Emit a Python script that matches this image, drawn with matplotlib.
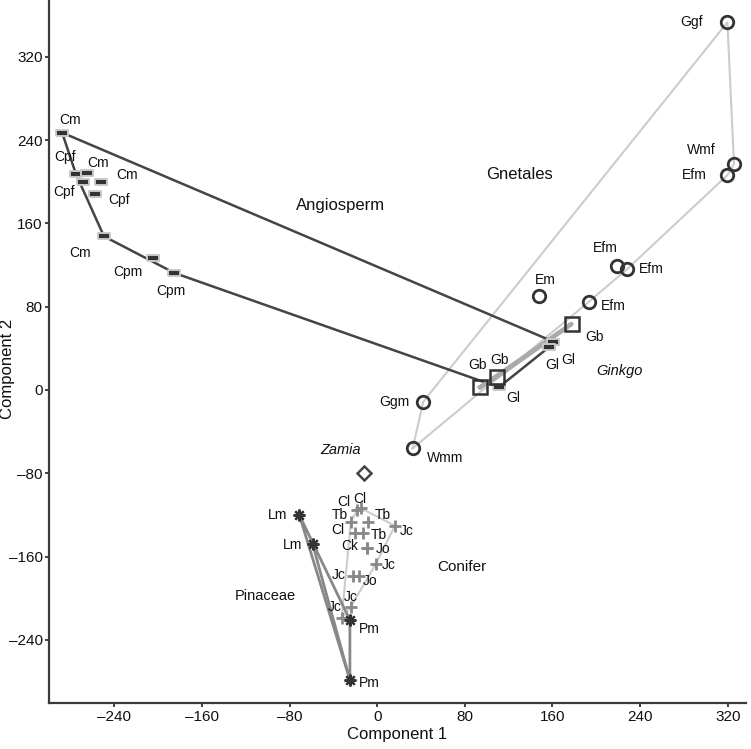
import matplotlib
matplotlib.use("Agg")
import matplotlib.pyplot as plt
import numpy as np

plt.rcParams['font.family'] = ['Liberation Sans', 'DejaVu Sans']

# ---------------- data ----------------
angio_labels = ["Cm", "Cpf", "Cm", "Cpf", "Cm", "Cpf", "Cm", "Cpm", "Cpm", "Gl", "Gl", "Gl"]
angio_x = [-287.6, -275.0, -264.5, -268.5, -252.4, -257.4, -249.4, -204.7, -185.1, 160.8, 156.8, 111.1]
angio_y = [247.2, 207.4, 208.0, 200.2, 199.9, 187.8, 147.6, 126.7, 112.4, 46.4, 41.1, 2.6]

ginkgo_labels = ["Gb", "Gb", "Gb"]
ginkgo_x = [177.4, 109.1, 94.0]
ginkgo_y = [63.4, 12.2, 2.6]

gnet_labels = ["Ggf", "Wmf", "Efm", "Efm", "Efm", "Em", "Efm", "Ggm", "Wmm"]
gnet_x = [319.7, 325.7, 319.7, 218.5, 228.3, 147.3, 193.4, 42.1, 32.4]
gnet_y = [353.2, 217.1, 206.4, 119.2, 116.2, 90.6, 84.9, -11.2, -56.1]

zamia_x = [-12.0]
zamia_y = [-79.5]

pin_labels = ["Lm", "Lm", "Pm", "Pm"]
pin_x = [-71.1, -58.9, -24.9, -24.9]
pin_y = [-120.0, -148.0, -221.0, -278.6]

con_labels = ["Cl", "Cl", "Tb", "Tb", "Jc", "Cl", "Tb", "Ck", "Jo", "Jc", "Jc", "Jo", "Jc", "Jc"]
con_x = [-18.1, -15.0, -24.0, -8.1, 16.2, -20.2, -12.7, -9.6, -9.6, -1.4, -21.9, -16.3, -24.0, -32.4]
con_y = [-115.3, -113.6, -126.5, -126.5, -130.4, -137.7, -137.7, -151.5, -151.5, -167.4, -178.7, -178.7, -208.2, -219.3]

group_names = ["Angiosperm", "Gnetales", "Ginkgo", "Zamia", "Conifer", "Pinaceae"]
group_x = [-33.5, 130.2, 221.6, -33.0, 77.5, -101.8]
group_y = [177.4, 207.4, 18.0, -57.6, -170.3, -197.9]

xticks = [-240, -160, -80, 0, 80, 160, 240, 320]
yticks = [-240, -160, -80, 0, 80, 160, 240, 320]

# ---------------- styles / label offsets (pixels) ----------------
group_italic = [False, False, True, True, False, False]
group_size = [12, 12, 10.5, 10.5, 11, 10.5]

angio_off = [(8, 13), (-11, 17), (11, 10), (-19, -10), (26, 7), (24, -6), (-24, -17), (-25, -14), (-4, -18),
             (15, -18), (3, -18), (14, -11)]
ginkgo_off = [(23, -13), (3, 17), (-3, 22)]
gnet_off = [(-36, 0), (-33, 14), (-33, 0), (-11, 18), (24, 0), (7, 16), (24, -4), (-29, 0), (32, -10)]
pin_off = [(-22, 0), (-20, -1), (19, -9), (19, -3)]
con_off = [(-14, 8), (-1, 9), (-11, 7), (15, 7), (12, -5), (-17, 3), (16, -2), (-17, 2), (16, -1),
           (13, -1), (-14, 1), (11, -5), (0, 10), (-7, 11)]


def hull(xs, ys):
    pts = sorted(set(zip(xs, ys)))
    if len(pts) < 3:
        return pts

    def cross(o, a, b):
        return (a[0] - o[0]) * (b[1] - o[1]) - (a[1] - o[1]) * (b[0] - o[0])
    lower = []
    for p in pts:
        while len(lower) >= 2 and cross(lower[-2], lower[-1], p) <= 0:
            lower.pop()
        lower.append(p)
    upper = []
    for p in reversed(pts):
        while len(upper) >= 2 and cross(upper[-2], upper[-1], p) <= 0:
            upper.pop()
        upper.append(p)
    h = lower[:-1] + upper[:-1]
    return h + [h[0]]


W, H = 751, 749
fig = plt.figure(figsize=(W / 100, H / 100), dpi=100)
left_px, right_px, bottom_px = 49.3, 745.7, 703.3
ax = fig.add_axes([left_px / W, (H - bottom_px) / H, (right_px - left_px) / W, bottom_px / H])


def draw_hull(xs, ys, color, lw):
    h = hull(xs, ys)
    hx = [p[0] for p in h]
    hy = [p[1] for p in h]
    ax.plot(hx, hy, color=color, lw=lw, zorder=1, solid_joinstyle='round', clip_on=False)


draw_hull(gnet_x, gnet_y, '#cccccc', 1.5)
draw_hull(con_x, con_y, '#cccccc', 1.5)
draw_hull(pin_x, pin_y, '#888888', 2.0)
ax.plot([pin_x[1], pin_x[3]], [pin_y[1], pin_y[3]], color='#888888', lw=2.0, zorder=1)
draw_hull(angio_x, angio_y, '#444444', 1.8)
draw_hull(ginkgo_x, ginkgo_y, '#aaaaaa', 3.0)

rect = [(-1, -0.48), (1, -0.48), (1, 0.48), (-1, 0.48), (-1, -0.48)]
ax.plot(angio_x, angio_y, linestyle='none', marker=rect, ms=8, mfc='#333333', mec='#c8c8c8', mew=1.4, zorder=3)
ax.plot(ginkgo_x, ginkgo_y, linestyle='none', marker='s', ms=9.5, mfc='none', mec='#333333', mew=1.8, zorder=3)
ax.plot(gnet_x, gnet_y, linestyle='none', marker='o', ms=9, mfc='none', mec='#333333', mew=2.0, zorder=3, clip_on=False)
ax.plot(zamia_x, zamia_y, linestyle='none', marker='D', ms=7, mfc='none', mec='#444444', mew=1.8, zorder=3)
ax.plot(con_x, con_y, linestyle='none', marker='+', ms=8.5, mec='#888888', mew=2.0, zorder=3)
ax.plot(pin_x, pin_y, linestyle='none', marker=(8, 2, 0), ms=8.5, mec='#333333', mew=1.6, zorder=3)


def label_points(labels, xs, ys, offs):
    for lab, x, y, o in zip(labels, xs, ys, offs):
        ax.annotate(lab, (x, y), xytext=o, textcoords='offset pixels', ha='center', va='center',
                    fontsize=10, color='#111111', zorder=4)


label_points(angio_labels, angio_x, angio_y, angio_off)
label_points(ginkgo_labels, ginkgo_x, ginkgo_y, ginkgo_off)
label_points(gnet_labels, gnet_x, gnet_y, gnet_off)
label_points(pin_labels, pin_x, pin_y, pin_off)
label_points(con_labels, con_x, con_y, con_off)

for name, x, y, it, fs in zip(group_names, group_x, group_y, group_italic, group_size):
    ax.text(x, y, name, ha='center', va='center', fontsize=fs,
            style='italic' if it else 'normal', color='#111111')

ax.set_xlim(-299.3, 336.4)
ax.set_ylim(-301.0, 374.6)
ax.set_xticks(xticks)
ax.set_yticks(yticks)
ax.set_xticklabels([f"\u2013{abs(v)}" if v < 0 else str(v) for v in xticks])
ax.set_yticklabels([f"\u2013{abs(v)}" if v < 0 else str(v) for v in yticks])
ax.tick_params(labelsize=11, length=3.2, width=1.3, direction='out', colors='#333333',
               labelcolor='#111111')
ax.tick_params(axis='x', pad=1.8)
ax.tick_params(axis='y', pad=1.5)
for s in ['top', 'right']:
    ax.spines[s].set_visible(False)
for s in ['left', 'bottom']:
    ax.spines[s].set_linewidth(1.6)
    ax.spines[s].set_color('#3a3a3a')
ax.set_xlabel("Component 1", fontsize=12, labelpad=2, color='#111111')
ax.set_ylabel("Component 2", fontsize=12, color='#111111')
ax.yaxis.set_label_coords(-0.049, 0.476)

fig.savefig("out.png", dpi=100)
